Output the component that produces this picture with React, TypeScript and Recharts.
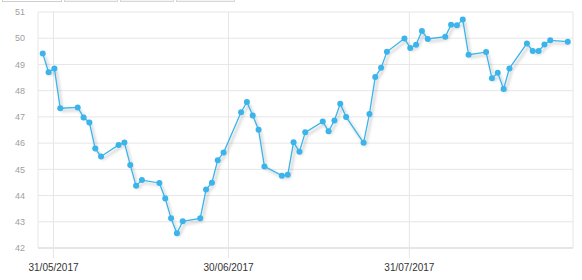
import React from 'react';
import { LineChart, Line, XAxis, YAxis, CartesianGrid } from 'recharts';

const DATES = [
  '2017-05-29', '2017-05-30', '2017-05-31', '2017-06-01',
  '2017-06-04', '2017-06-05', '2017-06-06', '2017-06-07', '2017-06-08',
  '2017-06-11', '2017-06-12', '2017-06-13', '2017-06-14', '2017-06-15',
  '2017-06-18', '2017-06-19', '2017-06-20', '2017-06-21', '2017-06-22',
  '2017-06-25', '2017-06-26', '2017-06-27', '2017-06-28', '2017-06-29',
  '2017-07-02', '2017-07-03', '2017-07-04', '2017-07-05', '2017-07-06',
  '2017-07-09', '2017-07-10', '2017-07-11', '2017-07-12', '2017-07-13',
  '2017-07-16', '2017-07-17', '2017-07-18', '2017-07-19', '2017-07-20',
  '2017-07-23', '2017-07-24', '2017-07-25', '2017-07-26', '2017-07-27',
  '2017-07-30', '2017-07-31', '2017-08-01', '2017-08-02', '2017-08-03',
  '2017-08-06', '2017-08-07', '2017-08-08', '2017-08-09', '2017-08-10',
  '2017-08-13', '2017-08-14', '2017-08-15', '2017-08-16', '2017-08-17',
  '2017-08-20', '2017-08-21', '2017-08-22', '2017-08-23', '2017-08-24',
  '2017-08-27',
];

const PRICES = [
  49.42, 48.70, 48.85, 47.33,
  47.36, 46.98, 46.79, 45.79, 45.49,
  45.93, 46.02, 45.17, 44.37, 44.59,
  44.48, 43.89, 43.13, 42.56, 43.02,
  43.13, 44.23, 44.49, 45.35, 45.64,
  47.18, 47.57, 47.05, 46.51, 45.11,
  44.76, 44.79, 46.03, 45.67, 46.41,
  46.82, 46.45, 46.86, 47.50, 47.00,
  46.01, 47.11, 48.52, 48.87, 49.48,
  49.99, 49.63, 49.75, 50.28, 49.97,
  50.06, 50.51, 50.49, 50.71, 49.37,
  49.47, 48.47, 48.68, 48.06, 48.85,
  49.80, 49.51, 49.51, 49.76, 49.92,
  49.87,
];

const POINT_TIME = 'T03:36:00Z';
const X_TICK_DATES = ['2017-05-31', '2017-06-30', '2017-07-31'];
const X_DOMAIN = ['2017-05-28T08:10:00Z', '2017-08-28T01:10:00Z'];
const Y_TICKS = [42, 43, 44, 45, 46, 47, 48, 49, 50, 51];
const RANGE_BUTTONS = [
  { left: 2, width: 60, active: true },
  { left: 64, width: 54, active: false },
  { left: 120, width: 54, active: false },
  { left: 176, width: 59, active: false },
];

const data = DATES.map((d, i) => ({ t: Date.parse(d + POINT_TIME), price: PRICES[i] }));
const xTicks = X_TICK_DATES.map((d) => Date.parse(d + 'T00:00:00Z'));
const xDomain = X_DOMAIN.map((d) => Date.parse(d));

const pad = (n: number) => (n < 10 ? '0' + n : '' + n);
const fmtDate = (v: number) => {
  const d = new Date(v);
  return `${pad(d.getUTCDate())}/${pad(d.getUTCMonth() + 1)}/${d.getUTCFullYear()}`;
};

const FONT = '"Liberation Sans", Arial, sans-serif';
const BLUE = '#3ab4eb';
const GRID = '#e6e6e6';

export default function App() {
  return (
    <div style={{ position: 'absolute', left: 0, top: 0, width: 582, height: 280, overflow: 'hidden', background: '#fff', fontFamily: FONT }}>
      <style>{`.price-line { filter: url(#lineShadow); }`}</style>
      {RANGE_BUTTONS.map((b, i) => (
        <div
          key={i}
          style={{
            position: 'absolute',
            top: -18,
            left: b.left,
            width: b.width,
            height: 20,
            boxSizing: 'border-box',
            border: `1px solid ${b.active ? '#cfcfcf' : '#d8d8d8'}`,
            background: b.active ? '#ffffff' : '#f4f4f4',
          }}
        />
      ))}
      <LineChart width={582} height={280} data={data} margin={{ top: 12, right: 9, bottom: 0, left: 0 }}>
        <defs>
          <filter id="lineShadow" x="-5%" y="-5%" width="115%" height="120%">
            <feDropShadow dx="2" dy="2.5" stdDeviation="1.4" floodColor="#000" floodOpacity="0.3" />
          </filter>
        </defs>
        <CartesianGrid stroke={GRID} horizontal vertical verticalPoints={undefined} />
        <XAxis
          dataKey="t"
          type="number"
          scale="linear"
          domain={xDomain}
          allowDataOverflow
          ticks={xTicks}
          tickFormatter={fmtDate}
          height={32}
          tickSize={10}
          tickMargin={6}
          tickLine={{ stroke: GRID }}
          axisLine={{ stroke: GRID, strokeWidth: 2 }}
          tick={{ fill: '#333', fontSize: 10, fontFamily: FONT }}
        />
        <YAxis
          type="number"
          domain={[42, 51]}
          ticks={Y_TICKS}
          width={38}
          tickSize={0}
          tickMargin={13}
          axisLine={false}
          tickLine={false}
          tick={{ fill: '#a0a0a0', fontSize: 9, fontFamily: FONT }}
        />
        <Line
          className="price-line"
          type="linear"
          dataKey="price"
          stroke={BLUE}
          strokeWidth={1.3}
          dot={{ r: 3, fill: BLUE, stroke: 'none' }}
          activeDot={false}
          isAnimationActive={false}
        />
      </LineChart>
    </div>
  );
}
